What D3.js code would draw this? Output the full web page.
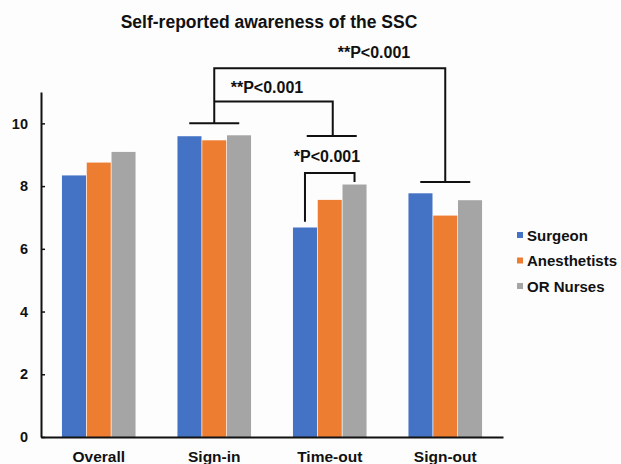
<!DOCTYPE html>
<html>
<head>
<meta charset="utf-8">
<script src="https://cdn.jsdelivr.net/npm/d3@7"></script>
<style>
  body { margin: 0; background: #fdfdfe; }
  text { font-family: "Liberation Sans", Arial, sans-serif; font-weight: bold; fill: #111; }
</style>
</head>
<body>
<div id="chart"></div>
<script>
// Chart data
const phases = ["Overall", "Sign-in", "Time-out", "Sign-out"];
const groups = ["Surgeon", "Anesthetists", "OR Nurses"];
const surgeon = [8.34, 9.59, 6.68, 7.77];
const anesthetists = [8.75, 9.46, 7.56, 7.06];
const orNurses = [9.09, 9.62, 8.05, 7.55];
const yTicks = [0, 2, 4, 6, 8, 10];
const colors = ["#4472C4", "#ED7D31", "#A5A5A5"];

// significance labels
const pLabels = ["**P<0.001", "**P<0.001", "*P<0.001"];

const width = 621, height = 464;
const margin = { top: 92, left: 41, right: 118, bottom: 27 };

const svg = d3.select("#chart").append("svg").attr("width", width).attr("height", height);

const x0 = d3.scaleBand().domain(phases).range([margin.left, width - margin.right])
    .paddingInner(0.35).paddingOuter(0.175);
const x1 = d3.scaleBand().domain(groups).range([0, x0.bandwidth()]).padding(0.03);
const y = d3.scaleLinear().domain([0, 11]).range([height - margin.bottom, margin.top]);

const series = [surgeon, anesthetists, orNurses];
const rows = [];
phases.forEach((p, i) => groups.forEach((g, j) => rows.push({ phase: p, group: g, value: series[j][i], c: colors[j] })));

// Bars
svg.append("g").selectAll("rect").data(rows).enter().append("rect")
    .attr("x", d => x0(d.phase) + x1(d.group))
    .attr("y", d => y(d.value))
    .attr("width", x1.bandwidth())
    .attr("height", d => y(0) - y(d.value))
    .attr("fill", d => d.c);

// Axes
const yAxis = svg.append("g").attr("transform", `translate(${margin.left},0)`)
    .call(d3.axisLeft(y).tickValues(yTicks).tickSizeInner(-4).tickSizeOuter(0).tickPadding(13));
yAxis.select(".domain").attr("stroke-width", 2).attr("stroke", "#111");
yAxis.selectAll(".tick line").attr("stroke-width", 1.5).attr("stroke", "#111");
yAxis.selectAll("text").style("font-size", "14.5px");

const xAxis = svg.append("g").attr("transform", `translate(0,${y(0)})`)
    .call(d3.axisBottom(x0).tickSize(0).tickPadding(14));
xAxis.select(".domain").attr("stroke-width", 2).attr("stroke", "#111");
xAxis.selectAll("text").style("font-size", "15.5px");

// Title
svg.append("text").attr("x", 269).attr("y", 27.5).attr("text-anchor", "middle")
    .style("font-size", "17.5px").text("Self-reported awareness of the SSC");

// Legend
const legend = svg.append("g");
groups.forEach((g, i) => {
    legend.append("rect").attr("x", 517).attr("y", 232 + i * 25.5).attr("width", 6).attr("height", 6).attr("fill", colors[i]);
    legend.append("text").attr("x", 527).attr("y", 240.5 + i * 25.5).style("font-size", "15px").text(g);
});

// Significance brackets
const center = p => x0(p) + x0.bandwidth() / 2;
const ann = svg.append("g").attr("fill", "none").attr("stroke", "#111").attr("stroke-width", 2);
const capHalf = 25;
const capSignIn = 10.0, capTimeOut = 9.6, capSignOut = 8.13;
const line = (pts) => ann.append("path").attr("d", d3.line()(pts));

// caps
line([[center("Sign-in") - capHalf, y(capSignIn)], [center("Sign-in") + capHalf, y(capSignIn)]]);
line([[center("Time-out") - capHalf + 2, y(capTimeOut)], [center("Time-out") + capHalf + 2, y(capTimeOut)]]);
line([[center("Sign-out") - capHalf, y(capSignOut)], [center("Sign-out") + capHalf, y(capSignOut)]]);

// Sign-in vs Sign-out
line([[center("Sign-in"), y(capSignIn)], [center("Sign-in"), y(11.76)], [center("Sign-out"), y(11.76)], [center("Sign-out"), y(capSignOut)]]);
// Sign-in vs Time-out
line([[center("Sign-in"), y(10.7)], [center("Time-out") + 3, y(10.7)], [center("Time-out") + 3, y(capTimeOut)]]);
// within Time-out: surgeon vs nurses
const bx = g => x0("Time-out") + x1(g) + x1.bandwidth() / 2;
line([[bx("Surgeon"), y(6.86)], [bx("Surgeon"), y(8.42)], [bx("OR Nurses"), y(8.42)], [bx("OR Nurses"), y(8.13)]]);

const labelPos = [[374, y(11.76) - 10], [267, y(10.7) - 8.5], [327, y(8.42) - 11]];
pLabels.forEach((t, i) => {
    svg.append("text").attr("x", labelPos[i][0]).attr("y", labelPos[i][1]).attr("text-anchor", "middle")
        .style("font-size", "16px").text(t);
});
</script>
</body>
</html>
